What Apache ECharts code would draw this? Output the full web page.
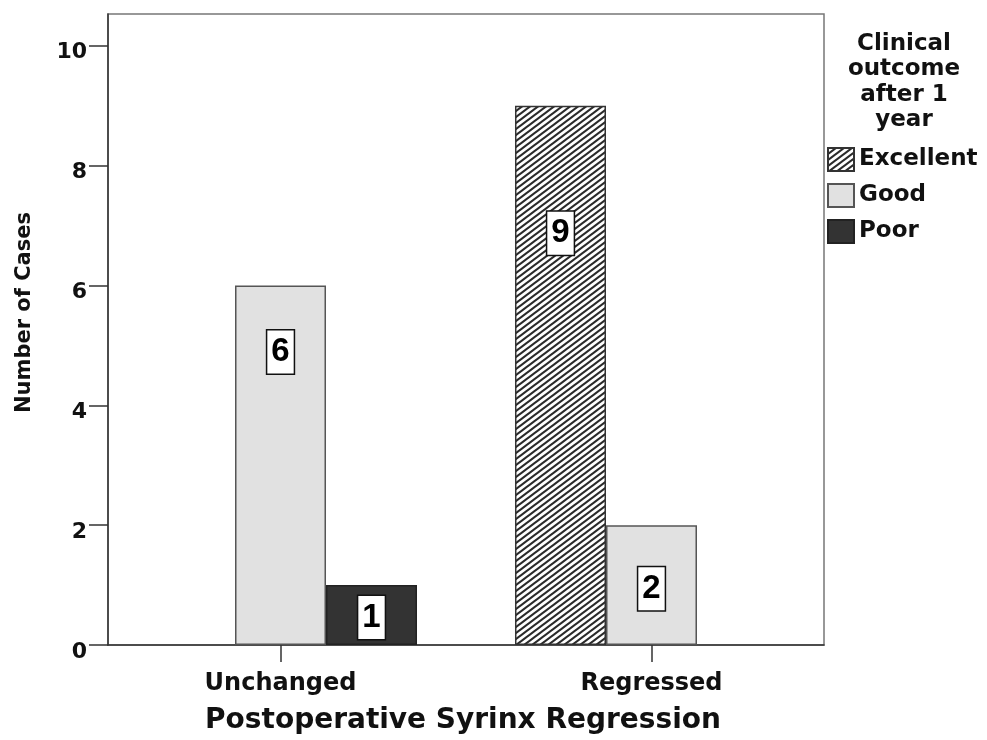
<!DOCTYPE html>
<html>
<head>
<meta charset="utf-8">
<script src="https://cdn.jsdelivr.net/npm/echarts@6/dist/echarts.min.js"></script>
<style>
  html, body { margin: 0; padding: 0; background: #fff; }
  #chart { width: 987px; height: 740px; }
</style>
</head>
<body>
<div id="chart"></div>
<script>
// data
const categories = ['Unchanged', 'Regressed']
const outcomes = ['Excellent', 'Good', 'Poor']
const excellent = [0, 9]
const good = [6, 2]
const poor = [1, 0]
const yTicks = [0, 2, 4, 6, 8, 10]

// how far each value box sits below the top of its bar (px)
const labelDrop = { Excellent: [0, 106], Good: [45, 42], Poor: [11, 0] }

const FONT = 'DejaVu Sans'

// diagonal hatch for "Excellent"
function hatch() {
  const c = document.createElement('canvas')
  const w = 8
  const h = 6
  c.width = w
  c.height = h
  const g = c.getContext('2d')
  g.fillStyle = '#fff'
  g.fillRect(0, 0, w, h)
  g.strokeStyle = '#2a2a2a'
  g.lineWidth = 2.1
  g.beginPath()
  for (let k = -1; k <= 1; k++) {
    g.moveTo(k * w - 2, h + 1.5)
    g.lineTo(k * w + w + 2, -1.5)
  }
  g.stroke()
  return c
}

const styles = {
  Excellent: { color: { image: hatch(), repeat: 'repeat' }, borderColor: '#333', borderWidth: 1.5 },
  Good: { color: '#e1e1e1', borderColor: '#555', borderWidth: 1.5 },
  Poor: { color: '#333333', borderColor: '#222', borderWidth: 1.5 },
}

const values = { Excellent: excellent, Good: good, Poor: poor }

const series = outcomes.map((name) => ({
  name,
  type: 'bar',
  barWidth: 91,
  barGap: '0%',
  itemStyle: styles[name],
  label: {
    show: true,
    position: 'insideTop',
    fontFamily: 'Liberation Sans',
    fontWeight: 'bold',
    fontSize: 33,
    lineHeight: 33,
    color: '#000',
    backgroundColor: '#fff',
    borderColor: '#111',
    borderWidth: 1.5,
    padding: [5, 4, 5, 4],
    formatter: (p) => p.value[1],
  },
  data: values[name]
    .map((v, i) => ({ value: [i, v], label: { distance: labelDrop[name][i] } }))
    .filter((d) => d.value[1] > 0),
}))

const chart = echarts.init(document.getElementById('chart'))
chart.setOption({
  animation: false,
  backgroundColor: '#fff',
  title: {
    text: 'Clinical\noutcome\nafter 1\nyear',
    left: 899,
    top: 26,
    textAlign: 'center',
    textStyle: { fontFamily: FONT, fontWeight: 'bold', fontSize: 23, lineHeight: 25.5, color: '#111' },
  },
  legend: {
    orient: 'vertical',
    left: 827,
    top: 147,
    padding: 0,
    itemWidth: 26,
    itemHeight: 23,
    itemGap: 11,
    icon: 'rect',
    textStyle: { fontFamily: FONT, fontWeight: 'bold', fontSize: 23, color: '#111' },
    data: outcomes,
  },
  grid: {
    left: 108,
    right: 163,
    top: 14,
    bottom: 95,
    show: true,
    borderColor: '#777',
    borderWidth: 1.5,
  },
  xAxis: {
    type: 'value',
    min: -0.465,
    max: 1.465,
    name: 'Postoperative Syrinx Regression',
    nameLocation: 'middle',
    nameGap: 62,
    nameTextStyle: { fontFamily: FONT, fontWeight: 'bold', fontSize: 28, color: '#111', padding: [0, 6, 0, 0] },
    axisLine: { show: true, onZero: false, lineStyle: { color: '#333', width: 1.5 } },
    axisTick: { show: true, length: 17, customValues: [0, 1], lineStyle: { color: '#333', width: 1.5 } },
    axisLabel: {
      customValues: [0, 1],
      margin: 27,
      fontFamily: FONT,
      fontWeight: 'bold',
      fontSize: 24,
      color: '#111',
      formatter: (v) => categories[Math.round(v)],
    },
    splitLine: { show: false },
  },
  yAxis: {
    type: 'value',
    min: 0,
    max: 10.53,
    name: 'Number of Cases',
    nameLocation: 'middle',
    nameGap: 73,
    nameRotate: 90,
    nameTextStyle: { fontFamily: FONT, fontWeight: 'bold', fontSize: 21, color: '#111', padding: [0, 0, 0, 34] },
    axisLine: { show: true, onZero: false, lineStyle: { color: '#333', width: 1.5 } },
    axisTick: { show: true, length: 19, customValues: yTicks, lineStyle: { color: '#333', width: 1.5 } },
    axisLabel: {
      customValues: yTicks,
      margin: 21,
      verticalAlign: 'top',
      lineHeight: 14,
      fontFamily: FONT,
      fontWeight: 'bold',
      fontSize: 22,
      color: '#111',
    },
    splitLine: { show: false },
  },
  series,
})
</script>
</body>
</html>
